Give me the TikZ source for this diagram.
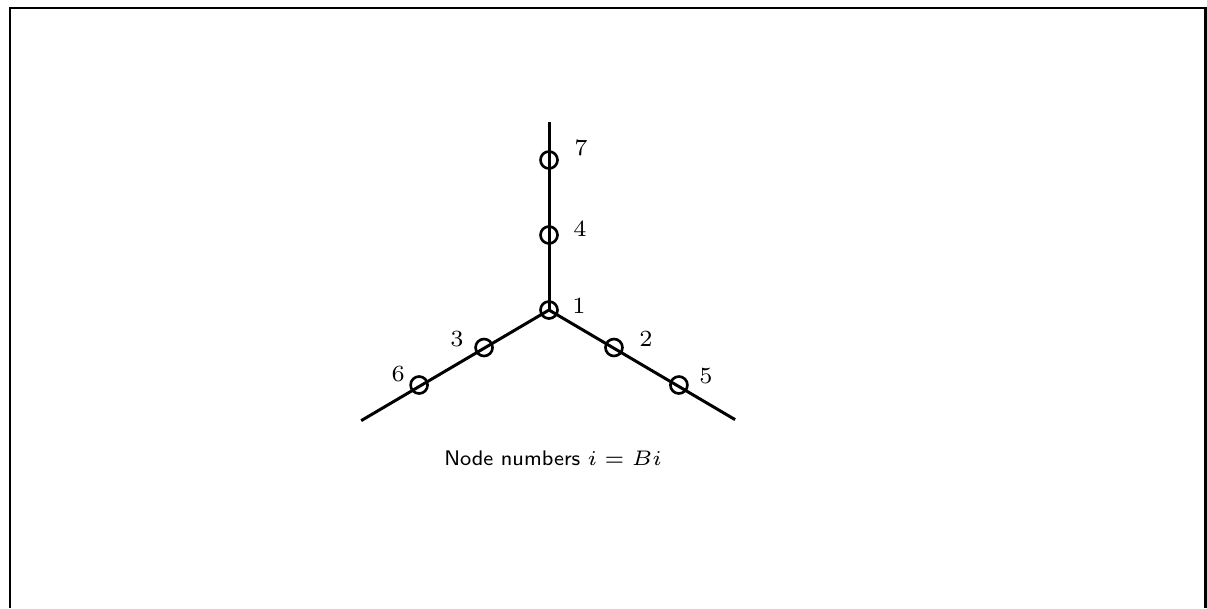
\documentclass[tikz,border=0pt]{standalone}
\usepackage{amsmath}
\usepackage{tikz}
\usetikzlibrary{calc,positioning}

\begin{document}
\begin{tikzpicture}[x=1cm,y=1cm,
    leg/.style={line width=0.85pt},
    joint/.style={circle,draw,line width=0.75pt,inner sep=0pt,minimum size=0.17cm},
    num/.style={font=\fontsize{6.6}{8}\selectfont,inner sep=0pt}]
  \useasboundingbox (0,0) rectangle (12.07,6.08);
  % frame, open at the bottom
  \draw[line width=0.85pt] (0.10,0) -- (0.10,6.00) -- (12.05,6.00) -- (12.05,0);
  % branches
  \coordinate (ctr) at (5.49,2.98);
  \coordinate (topend) at ($(ctr)+(90:1.88)$);
  \coordinate (leftend) at ($(ctr)+(210.5:2.18)$);
  \coordinate (rightend) at ($(ctr)+(329.5:2.16)$);
  \draw[leg] (ctr) -- (topend);
  \draw[leg] (ctr) -- (leftend);
  \draw[leg] (ctr) -- (rightend);
  % joints
  \foreach \k/\ang/\d in {1/90/0,4/90/0.75,7/90/1.5,3/210/0.75,6/210/1.5,2/330/0.75,5/330/1.5}
    \node[joint] (n\k) at ($(ctr)+(\ang:\d)$) {};
  % numbers
  \foreach \k/\dx/\dy in {7/0.32/0.12,4/0.31/0.06,1/0.30/0.04,3/-0.27/0.08,6/-0.21/0.11,2/0.32/0.09,5/0.27/0.09}
    \node[num] (t\k) at ($(n\k)+(\dx,\dy)$) {\k};
  % caption
  \node[num,font=\fontsize{6}{7.5}\selectfont\sffamily] (cap) at (5.53,1.50) {Node numbers $i = Bi$};
\end{tikzpicture}
\end{document}
